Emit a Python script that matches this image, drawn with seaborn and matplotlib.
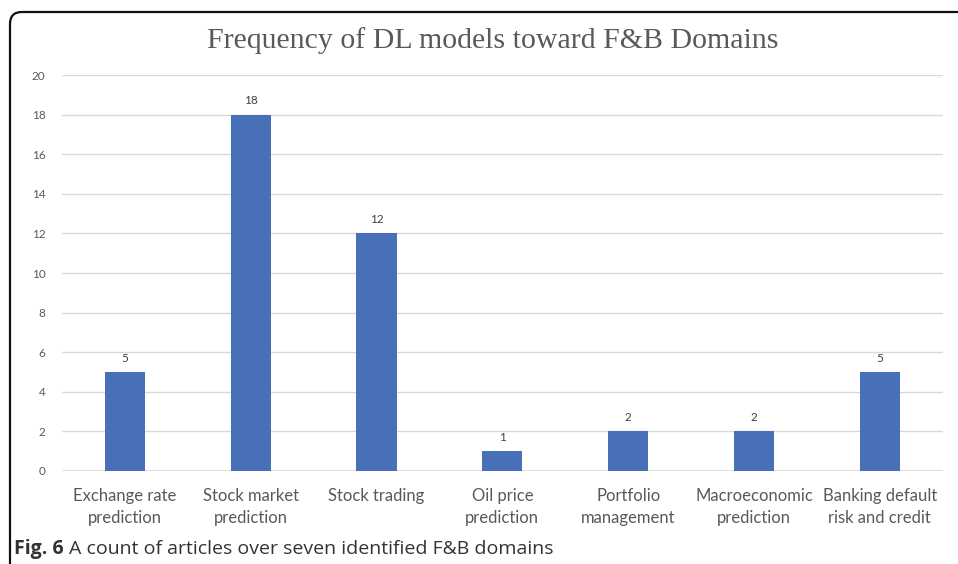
import matplotlib.pyplot as plt
import pandas as pd
import seaborn as sns
from matplotlib.patches import FancyBboxPatch

categories = [
    "Exchange rate\nprediction",
    "Stock market\nprediction",
    "Stock trading",
    "Oil price\nprediction",
    "Portfolio\nmanagement",
    "Macroeconomic\nprediction",
    "Banking default\nrisk and credit",
]
counts = [5, 18, 12, 1, 2, 2, 5]
y_ticks = list(range(0, 21, 2))


def main():
    sns.set_style("white")
    plt.rcParams["font.family"] = ["Lato", "DejaVu Sans"]

    df = pd.DataFrame({"Domain": categories, "Count": counts})

    fig = plt.figure(figsize=(9.58, 5.64), dpi=100)
    ax = fig.add_axes([0.0647, 0.1649, 0.9193, 0.7021])

    sns.barplot(data=df, x="Domain", y="Count", color="#4870B8",
                saturation=1, width=0.32, linewidth=0, ax=ax, zorder=3)

    ax.set_ylim(0, 20)
    ax.set_yticks(y_ticks)
    ax.set_xlim(-0.5, len(categories) - 0.5)
    ax.grid(axis="y", color="#d9d9d9", linewidth=1, zorder=0)
    ax.set_axisbelow(True)
    sns.despine(ax=ax, left=True, bottom=True, top=True, right=True)
    ax.axhline(0, color="#d9d9d9", linewidth=1.2, zorder=1)
    ax.set_xlabel("")
    ax.set_ylabel("")
    ax.tick_params(axis="y", length=0, labelsize=8.5, labelcolor="#595959", pad=12)
    ax.tick_params(axis="x", length=0, labelsize=12, labelcolor="#595959", pad=12)
    for lbl in ax.get_xticklabels():
        lbl.set_linespacing(1.45)

    ax.bar_label(ax.containers[0], padding=6, fontsize=8.5, color="#404040")

    fig.text(0.514, 0.929, "Frequency of DL models toward F&B Domains",
             family="Liberation Serif", fontsize=21.5, color="#595959",
             ha="center", va="center")

    # rounded chart frame that runs off the right and bottom edges
    frame = FancyBboxPatch((0.10, -1.0), 10.0, 6.52,
                           boxstyle="round,pad=0,rounding_size=0.12",
                           transform=fig.dpi_scale_trans, fill=False,
                           edgecolor="#111111", linewidth=1.6)
    fig.add_artist(frame)

    t1 = fig.text(0.0146, 0.018, "Fig. 6", family="Open Sans", fontweight="bold",
                  fontsize=14, color="#333333", ha="left", va="baseline")
    fig.canvas.draw()
    bb = t1.get_window_extent()
    x2 = (bb.x1 + 5) / fig.bbox.width
    fig.text(x2, 0.018, "A count of articles over seven identified F&B domains",
             family="Open Sans", fontsize=14, color="#333333",
             ha="left", va="baseline")

    plt.savefig("out.png", dpi=100)


if __name__ == "__main__":
    main()
